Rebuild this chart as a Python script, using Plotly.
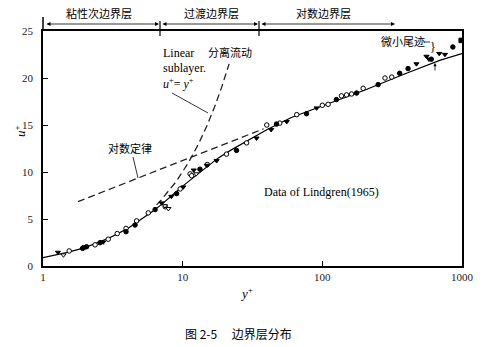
import plotly.graph_objects as go

# ---------------- data ----------------
x_ticks = [1, 10, 100, 1000]
x_tick_text = ["1", "10", "100", "1000"]
y_ticks = [0, 5, 10, 15, 20, 25]

# solid fitted profile
fit_y = [1, 1.5, 2, 3, 4, 5, 6, 7, 8, 9, 10, 12, 15, 18, 22, 30, 40, 60, 100, 200, 400, 700, 1000]
fit_u = [0.9, 1.45, 1.95, 3.0, 3.95, 4.9, 5.75, 6.5, 7.2, 7.9, 8.5, 9.4, 10.5, 11.5, 12.3, 13.4, 14.5, 15.8, 17.0, 18.7, 20.5, 21.9, 22.6]

# dashed log law
log_y = [1.78, 38]
log_u = [6.85, 14.6]

# dashed linear sublayer u+ = y+
lin_y = [6.5, 7, 9, 11, 13, 15, 17, 19, 21.5]
lin_u = [6.5, 7, 9, 11, 13, 15, 17, 19, 21.5]

# Lindgren (1965) data
oc_y = [1.54, 1.95, 2.36, 2.93, 3.40, 3.93, 4.68, 5.67, 7.5, 9.6, 11.3, 11.6, 15.0, 20.6, 28.7, 40, 49.6, 65.6, 100, 110, 137, 149, 162, 196, 281, 314]
oc_u = [1.6, 1.95, 2.25, 2.85, 3.45, 4.0, 4.8, 5.65, 6.3, 8.2, 9.8, 9.6, 10.8, 11.9, 13.1, 15.0, 15.2, 16.1, 17.1, 17.2, 18.1, 18.2, 18.3, 18.9, 20.0, 20.1]

fc_y = [1.92, 2.05, 2.56, 3.93, 4.56, 6.35, 9.05, 13.3, 24.3, 47, 77, 126, 176, 251, 358, 411, 603, 860]
fc_u = [1.88, 2.05, 2.48, 3.65, 4.36, 6.0, 7.7, 10.3, 12.3, 15.1, 16.2, 17.7, 18.4, 19.3, 20.5, 21.0, 22.0, 23.3]

ft_y = [1.28, 2.0, 2.7, 7.07, 8.3, 10.1, 12.0, 14.9, 17.5, 33.8, 43, 55.6, 91, 472, 557, 580, 687, 755]
ft_u = [1.45, 2.0, 2.55, 6.7, 7.4, 8.4, 10.2, 10.7, 11.2, 13.6, 14.5, 15.35, 16.8, 21.5, 22.3, 22.0, 22.6, 22.5]

ot_y = [1.40, 7.47, 7.9, 12.5]
ot_u = [1.17, 6.4, 6.1, 9.8]

fs_y = [987]
fs_u = [24.0]

# ---------------- layout helpers ----------------
W, H = 485, 347
L, R, T, B = 43, 462, 31, 266


def px(x):
    return (x - L) / (R - L)


def py(y):
    return (B - y) / (B - T)


SERIF = "Liberation Serif, Times New Roman, serif"
CJK = "Noto Sans CJK SC"

fig = go.Figure()

fig.add_trace(go.Scatter(x=fit_y, y=fit_u, mode="lines",
                         line=dict(color="black", width=1.2), showlegend=False))
fig.add_trace(go.Scatter(x=log_y, y=log_u, mode="lines",
                         line=dict(color="#222", width=1.3, dash="7px,4px"), showlegend=False))
fig.add_trace(go.Scatter(x=lin_y, y=lin_u, mode="lines",
                         line=dict(color="#222", width=1.3, dash="7px,4px"), showlegend=False))

mk = dict(size=4.5, line=dict(color="black", width=1))
fig.add_trace(go.Scatter(x=oc_y, y=oc_u, mode="markers", showlegend=False,
                         marker=dict(symbol="circle", color="white", **mk)))
fig.add_trace(go.Scatter(x=fc_y, y=fc_u, mode="markers", showlegend=False,
                         marker=dict(symbol="circle", color="black", **mk)))
fig.add_trace(go.Scatter(x=ft_y, y=ft_u, mode="markers", showlegend=False,
                         marker=dict(symbol="triangle-down", color="black", **mk)))
fig.add_trace(go.Scatter(x=ot_y, y=ot_u, mode="markers", showlegend=False,
                         marker=dict(symbol="triangle-down", color="white", **mk)))
fig.add_trace(go.Scatter(x=fs_y, y=fs_u, mode="markers", showlegend=False,
                         marker=dict(symbol="square", color="black", **mk)))

shapes = []


def seg(x0, y0, x1, y1, w=1.0):
    shapes.append(dict(type="line", xref="paper", yref="paper",
                       x0=px(x0), y0=py(y0), x1=px(x1), y1=py(y1),
                       line=dict(color="black", width=w)))


# top region markers
seg(L, 17, L, T, 1.5)
seg(160, 21, 160, 36, 1.2)
seg(259, 21, 259, 36, 1.2)
# leader lines
seg(172, 93, 208, 113, 0.8)
seg(133, 157, 138, 178, 0.8)
seg(424, 42, 430, 42, 0.8)

annotations = []


def txt(x, y, s, size=11, font=SERIF, xanchor="center"):
    annotations.append(dict(xref="paper", yref="paper", x=px(x), y=py(y), text=s,
                            showarrow=False, xanchor=xanchor, yanchor="middle",
                            font=dict(family=font, size=size, color="black")))


def darrow(x0, x1, y):
    annotations.append(dict(xref="paper", yref="paper", x=px(x1), y=py(y),
                            ax=x0 - x1, ay=0, axref="pixel", ayref="pixel",
                            text="", showarrow=True, arrowhead=2, arrowsize=1,
                            arrowwidth=0.8, arrowside="end+start", arrowcolor="black"))


darrow(45, 159, 24)
darrow(161, 258, 24)
darrow(260, 395, 24)

txt(99, 13, "粘性次边界层", 11, CJK)
txt(211, 13, "过渡边界层", 11, CJK)
txt(323, 13, "对数边界层", 11, CJK)

txt(161, 53, "Linear", 12, xanchor="left")
txt(161, 68, "sublayer.", 12, xanchor="left")
txt(161, 83, "<i>u</i><sup>+</sup>= <i>y</i><sup>+</sup>", 12, xanchor="left")
txt(230, 52, "分离流动", 11, CJK)
txt(130, 148, "对数定律", 11, CJK)
txt(321, 192, "Data of Lindgren(1965)", 12)
txt(403, 41, "微小尾迹", 11, CJK)
txt(433, 47, "}", 12)

# small up arrow under tail region
annotations.append(dict(xref="paper", yref="paper", x=px(435), y=py(63),
                        ax=0, ay=9, axref="pixel", ayref="pixel", text="",
                        showarrow=True, arrowhead=2, arrowsize=0.8,
                        arrowwidth=0.8, arrowcolor="black"))

# axis titles and caption
txt(246, 293, "<i>y</i><sup>+</sup>", 13)
annotations.append(dict(xref="paper", yref="paper", x=px(10), y=py(131),
                        text="<i>u</i><sup>+</sup>", showarrow=False, textangle=-90,
                        font=dict(family=SERIF, size=13, color="black")))
txt(238, 333, "图 2-5　 边界层分布", 12, CJK)

fig.update_layout(
    width=W, height=H,
    margin=dict(l=L, r=W - R, t=T, b=H - B),
    paper_bgcolor="white", plot_bgcolor="white",
    shapes=shapes, annotations=annotations,
    xaxis=dict(type="log", range=[0, 3], tickvals=x_ticks, ticktext=x_tick_text,
               ticks="inside", ticklen=5, tickwidth=1.2, tickcolor="black",
               showline=True, linecolor="black", linewidth=1.5, mirror=True,
               showgrid=False, zeroline=False,
               tickfont=dict(family=SERIF, size=11, color="#222")),
    yaxis=dict(range=[0, 25], tickvals=y_ticks,
               ticks="inside", ticklen=5, tickwidth=1.2, tickcolor="black",
               showline=True, linecolor="black", linewidth=1.5, mirror=True,
               showgrid=False, zeroline=False, ticklabelstandoff=6,
               tickfont=dict(family=SERIF, size=11, color="#222")),
)

fig.write_html("out.html")
